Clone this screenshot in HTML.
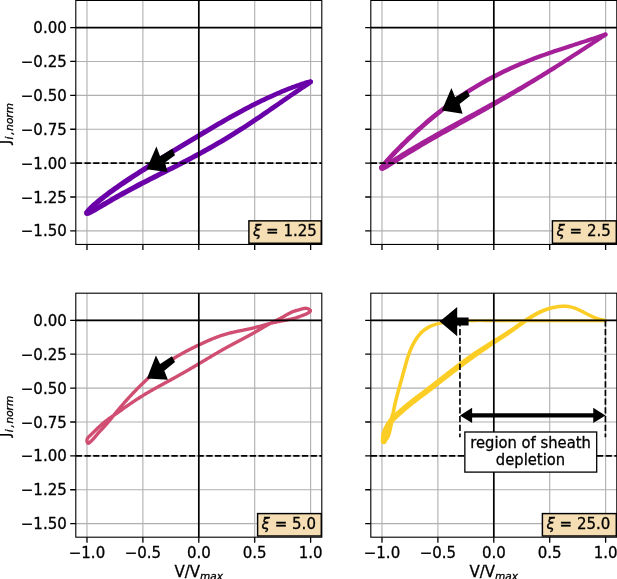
<!DOCTYPE html>
<html><head><meta charset="utf-8"><title>figure</title><style>html,body{margin:0;padding:0;background:#fff}svg{display:block}text{stroke:#000;stroke-width:.3px}</style></head><body>
<svg width="617" height="579" viewBox="0 0 617 579" font-family="DejaVu Sans, Liberation Sans, sans-serif" font-size="15.0" fill="#000">
<rect width="617" height="579" fill="#fff"/>
<g>
<path d="M86.98 0.45V244.45M142.89 0.45V244.45M198.80 0.45V244.45M254.71 0.45V244.45M310.62 0.45V244.45M75.80 27.56H321.80M75.80 61.45H321.80M75.80 95.34H321.80M75.80 129.23H321.80M75.80 163.12H321.80M75.80 197.01H321.80M75.80 230.89H321.80" stroke="#b0b0b0" stroke-width="1.11" fill="none"/>
<clipPath id="c0"><rect x="75.8" y="0.45" width="246.0" height="244.0"/></clipPath>
<g fill="#6a00a8" clip-path="url(#c0)"><path d="M312.63 80.79 L311.95 79.94 L310.82 79.46 L310.19 79.42 L309.70 79.46 L309.23 79.54 L308.73 79.64 L308.18 79.77 L307.57 79.93 L306.88 80.12 L306.14 80.34 L305.32 80.58 L304.42 80.86 L303.46 81.16 L302.43 81.49 L301.32 81.85 L300.14 82.25 L298.89 82.67 L297.58 83.13 L296.19 83.61 L294.74 84.13 L293.21 84.68 L291.63 85.27 L289.97 85.89 L288.26 86.55 L286.48 87.24 L284.64 87.97 L282.74 88.73 L280.78 89.54 L278.76 90.38 L276.69 91.26 L274.56 92.18 L272.38 93.14 L270.15 94.14 L267.86 95.18 L265.53 96.26 L263.15 97.38 L260.73 98.54 L258.27 99.74 L255.76 100.97 L253.21 102.25 L250.63 103.56 L248.00 104.91 L245.35 106.29 L242.66 107.71 L239.94 109.17 L237.19 110.65 L234.42 112.16 L231.62 113.71 L228.79 115.28 L225.95 116.88 L223.08 118.50 L220.20 120.14 L217.31 121.81 L214.40 123.49 L211.48 125.19 L208.55 126.91 L205.61 128.63 L202.67 130.37 L199.72 132.12 L196.78 133.88 L193.83 135.65 L190.89 137.42 L187.96 139.19 L185.03 140.96 L182.10 142.73 L179.19 144.50 L176.30 146.27 L173.41 148.03 L170.55 149.79 L167.70 151.53 L164.87 153.27 L162.07 155.01 L159.29 156.73 L156.53 158.44 L153.81 160.13 L151.11 161.82 L148.44 163.49 L145.81 165.15 L143.22 166.79 L140.66 168.42 L138.14 170.03 L135.66 171.63 L133.22 173.21 L130.82 174.77 L128.48 176.31 L126.17 177.84 L123.92 179.35 L121.72 180.83 L119.57 182.30 L117.47 183.74 L115.43 185.17 L113.44 186.57 L111.51 187.94 L109.64 189.29 L107.83 190.62 L106.08 191.92 L104.39 193.19 L102.77 194.43 L101.21 195.63 L99.72 196.81 L98.29 197.96 L96.93 199.06 L95.64 200.14 L94.42 201.17 L93.27 202.17 L92.19 203.12 L91.18 204.04 L90.24 204.91 L89.37 205.73 L88.58 206.51 L87.86 207.25 L87.20 207.94 L86.62 208.59 L86.10 209.20 L85.65 209.78 L85.25 210.33 L84.91 210.89 L84.61 211.51 L84.38 212.32 L84.34 212.96 L89.64 212.96 L89.60 213.20 L89.53 213.48 L89.54 213.47 L89.66 213.27 L89.88 212.96 L90.20 212.56 L90.60 212.08 L91.10 211.53 L91.67 210.92 L92.32 210.25 L93.06 209.53 L93.87 208.75 L94.75 207.93 L95.71 207.06 L96.75 206.14 L97.85 205.18 L99.03 204.17 L100.28 203.13 L101.61 202.05 L103.00 200.93 L104.45 199.77 L105.98 198.59 L107.57 197.37 L109.22 196.11 L110.94 194.83 L112.72 193.52 L114.56 192.19 L116.47 190.83 L118.43 189.44 L120.44 188.03 L122.52 186.59 L124.64 185.14 L126.82 183.66 L129.06 182.16 L131.34 180.64 L133.67 179.10 L136.04 177.54 L138.46 175.97 L140.93 174.37 L143.43 172.76 L145.98 171.13 L148.56 169.49 L151.18 167.83 L153.83 166.16 L156.52 164.47 L159.23 162.77 L161.98 161.06 L164.75 159.34 L167.55 157.60 L170.36 155.86 L173.20 154.11 L176.06 152.35 L178.94 150.58 L181.83 148.81 L184.73 147.04 L187.64 145.26 L190.56 143.49 L193.49 141.71 L196.42 139.94 L199.35 138.17 L202.28 136.41 L205.22 134.65 L208.14 132.91 L211.06 131.17 L213.98 129.45 L216.88 127.75 L219.77 126.06 L222.65 124.39 L225.51 122.74 L228.35 121.12 L231.17 119.52 L233.97 117.94 L236.75 116.40 L239.50 114.88 L242.22 113.40 L244.92 111.95 L247.58 110.53 L250.21 109.15 L252.80 107.80 L255.36 106.49 L257.88 105.22 L260.35 103.98 L262.79 102.79 L265.18 101.63 L267.53 100.51 L269.83 99.44 L272.08 98.40 L274.28 97.40 L276.43 96.45 L278.53 95.53 L280.57 94.65 L282.56 93.81 L284.49 93.01 L286.36 92.25 L288.17 91.52 L289.92 90.83 L291.61 90.18 L293.24 89.56 L294.80 88.98 L296.29 88.43 L297.72 87.91 L299.08 87.42 L300.38 86.97 L301.60 86.55 L302.75 86.16 L303.83 85.80 L304.84 85.47 L305.78 85.17 L306.64 84.91 L307.42 84.67 L308.12 84.46 L308.74 84.29 L309.28 84.15 L309.73 84.04 L310.07 83.96 L310.30 83.93 L310.35 83.92 L310.10 83.90 L309.21 83.50 L308.61 82.81Z" fill-rule="nonzero"/><circle cx="310.62" cy="81.80" r="2.25"/><circle cx="86.99" cy="212.96" r="2.65"/></g>
<g fill="#6a00a8" clip-path="url(#c0)"><path d="M84.67 214.23 L85.23 215.01 L86.54 215.74 L87.54 215.85 L88.28 215.76 L88.91 215.60 L89.54 215.39 L90.19 215.13 L90.88 214.82 L91.63 214.46 L92.43 214.05 L93.30 213.58 L94.24 213.07 L95.25 212.51 L96.32 211.90 L97.46 211.24 L98.67 210.54 L99.94 209.79 L101.28 209.00 L102.69 208.16 L104.17 207.29 L105.70 206.38 L107.31 205.44 L108.97 204.46 L110.70 203.45 L112.49 202.41 L114.34 201.35 L116.25 200.25 L118.21 199.13 L120.23 197.99 L122.31 196.83 L124.44 195.65 L126.62 194.45 L128.85 193.23 L131.13 191.99 L133.46 190.74 L135.84 189.47 L138.26 188.20 L140.72 186.90 L143.23 185.60 L145.77 184.28 L148.36 182.95 L150.98 181.61 L153.63 180.25 L156.32 178.89 L159.04 177.51 L161.78 176.12 L164.56 174.71 L167.36 173.29 L170.18 171.86 L173.02 170.41 L175.89 168.95 L178.77 167.48 L181.67 165.98 L184.58 164.48 L187.50 162.95 L190.43 161.41 L193.37 159.85 L196.31 158.28 L199.26 156.69 L202.20 155.08 L205.15 153.46 L208.09 151.82 L211.03 150.16 L213.96 148.49 L216.88 146.80 L219.78 145.11 L222.68 143.39 L225.56 141.67 L228.42 139.94 L231.26 138.20 L234.08 136.46 L236.88 134.71 L239.65 132.96 L242.39 131.21 L245.10 129.46 L247.78 127.71 L250.43 125.97 L253.04 124.24 L255.62 122.52 L258.15 120.82 L260.65 119.13 L263.10 117.46 L265.51 115.81 L267.88 114.18 L270.19 112.58 L272.46 111.01 L274.68 109.48 L276.84 107.97 L278.95 106.50 L281.01 105.07 L283.01 103.68 L284.95 102.33 L286.83 101.02 L288.65 99.76 L290.42 98.54 L292.11 97.37 L293.75 96.25 L295.32 95.17 L296.82 94.15 L298.26 93.17 L299.63 92.25 L300.93 91.38 L302.16 90.55 L303.32 89.78 L304.41 89.05 L305.43 88.38 L306.37 87.75 L307.25 87.17 L308.05 86.64 L308.79 86.15 L309.45 85.70 L310.04 85.29 L310.57 84.92 L311.03 84.58 L311.44 84.27 L311.80 83.96 L312.16 83.61 L312.56 83.08 L312.79 82.54 L308.44 81.05 L308.60 80.74 L308.77 80.50 L308.74 80.53 L308.56 80.67 L308.28 80.89 L307.89 81.17 L307.42 81.50 L306.86 81.88 L306.22 82.31 L305.50 82.79 L304.70 83.32 L303.83 83.90 L302.88 84.52 L301.85 85.20 L300.76 85.92 L299.59 86.70 L298.35 87.52 L297.04 88.40 L295.66 89.32 L294.21 90.30 L292.70 91.32 L291.12 92.40 L289.47 93.52 L287.76 94.69 L285.99 95.90 L284.16 97.16 L282.27 98.47 L280.33 99.81 L278.32 101.20 L276.26 102.63 L274.15 104.09 L271.98 105.58 L269.76 107.11 L267.50 108.67 L265.18 110.26 L262.82 111.87 L260.42 113.51 L257.97 115.16 L255.48 116.84 L252.95 118.53 L250.38 120.23 L247.78 121.94 L245.14 123.66 L242.47 125.39 L239.77 127.12 L237.05 128.85 L234.29 130.58 L231.51 132.31 L228.70 134.04 L225.88 135.75 L223.03 137.46 L220.17 139.16 L217.29 140.85 L214.40 142.53 L211.50 144.19 L208.59 145.84 L205.66 147.48 L202.74 149.10 L199.81 150.70 L196.87 152.29 L193.94 153.87 L191.01 155.42 L188.09 156.96 L185.17 158.49 L182.26 160.00 L179.35 161.50 L176.46 162.97 L173.59 164.44 L170.73 165.89 L167.88 167.33 L165.06 168.75 L162.26 170.16 L159.48 171.56 L156.73 172.95 L154.01 174.32 L151.31 175.68 L148.65 177.04 L146.02 178.38 L143.42 179.71 L140.86 181.02 L138.34 182.33 L135.86 183.62 L133.42 184.90 L131.03 186.17 L128.68 187.42 L126.38 188.66 L124.13 189.89 L121.93 191.09 L119.78 192.28 L117.68 193.44 L115.64 194.59 L113.66 195.71 L111.74 196.81 L109.87 197.88 L108.07 198.92 L106.33 199.93 L104.65 200.91 L103.04 201.86 L101.50 202.76 L100.02 203.63 L98.61 204.46 L97.28 205.24 L96.01 205.98 L94.82 206.67 L93.70 207.32 L92.65 207.91 L91.69 208.44 L90.80 208.93 L90.00 209.35 L89.28 209.72 L88.64 210.02 L88.11 210.26 L87.68 210.43 L87.38 210.53 L87.25 210.57 L87.37 210.56 L87.90 210.62 L88.90 211.19 L89.32 211.69Z" fill-rule="nonzero"/><circle cx="86.99" cy="212.96" r="2.65"/><circle cx="310.62" cy="81.80" r="2.30"/></g>
<path d="M75.80 27.56H321.80M198.80 0.45V244.45" stroke="#000" stroke-width="1.67" fill="none"/>
<path d="M75.80 163.12H321.80" stroke="#000" stroke-width="1.67" stroke-dasharray="6.2 2.5" fill="none"/>
<path d="M86.98 244.45v5.6M142.89 244.45v5.6M198.80 244.45v5.6M254.71 244.45v5.6M310.62 244.45v5.6M75.80 27.56h-5.6M75.80 61.45h-5.6M75.80 95.34h-5.6M75.80 129.23h-5.6M75.80 163.12h-5.6M75.80 197.01h-5.6M75.80 230.89h-5.6" stroke="#000" stroke-width="1.3" fill="none"/>
<rect x="75.8" y="0.45" width="246.0" height="244.0" fill="none" stroke="#000" stroke-width="1.11"/>
<text transform="translate(66.75 33.16) scale(1.0 1)" text-anchor="end">0.00</text>
<text transform="translate(66.75 67.05) scale(1.0 1)" text-anchor="end">−0.25</text>
<text transform="translate(66.75 100.94) scale(1.0 1)" text-anchor="end">−0.50</text>
<text transform="translate(66.75 134.83) scale(1.0 1)" text-anchor="end">−0.75</text>
<text transform="translate(66.75 168.72) scale(1.0 1)" text-anchor="end">−1.00</text>
<text transform="translate(66.75 202.61) scale(1.0 1)" text-anchor="end">−1.25</text>
<text transform="translate(66.75 236.49) scale(1.0 1)" text-anchor="end">−1.50</text>
<text transform="translate(9.70 144.15) rotate(-90) scale(1.0 1)" text-anchor="start">J<tspan font-style="italic" font-size="10.5" dy="3.5" dx="0.3">i</tspan><tspan font-style="italic" font-size="10.5" dx="1.8">,</tspan><tspan font-style="italic" font-size="10.5" dx="0.6">norm</tspan></text>
</g>
<g>
<path d="M381.98 0.45V244.45M437.89 0.45V244.45M493.80 0.45V244.45M549.71 0.45V244.45M605.62 0.45V244.45M370.80 27.56H616.80M370.80 61.45H616.80M370.80 95.34H616.80M370.80 129.23H616.80M370.80 163.12H616.80M370.80 197.01H616.80M370.80 230.89H616.80" stroke="#b0b0b0" stroke-width="1.11" fill="none"/>
<clipPath id="c1"><rect x="370.8" y="0.45" width="246.0" height="244.0"/></clipPath>
<g fill="#a41f98" clip-path="url(#c1)"><path d="M607.09 33.17 L606.19 32.55 L605.31 32.45 L604.87 32.52 L604.49 32.61 L604.08 32.73 L603.62 32.87 L603.10 33.05 L602.51 33.25 L601.85 33.48 L601.12 33.73 L600.32 34.01 L599.44 34.32 L598.50 34.65 L597.48 35.01 L596.39 35.39 L595.22 35.79 L593.99 36.21 L592.69 36.66 L591.32 37.12 L589.88 37.60 L588.37 38.10 L586.80 38.62 L585.17 39.16 L583.46 39.71 L581.70 40.28 L579.88 40.87 L577.99 41.48 L576.04 42.10 L574.04 42.74 L571.98 43.40 L569.87 44.08 L567.70 44.77 L565.48 45.49 L563.20 46.22 L560.88 46.97 L558.52 47.75 L556.10 48.55 L553.64 49.37 L551.14 50.21 L548.60 51.08 L546.01 51.97 L543.40 52.89 L540.74 53.83 L538.05 54.81 L535.33 55.81 L532.58 56.85 L529.80 57.91 L527.00 59.01 L524.17 60.14 L521.31 61.31 L518.44 62.50 L515.55 63.74 L512.65 65.01 L509.72 66.32 L506.79 67.66 L503.85 69.04 L500.90 70.46 L497.94 71.91 L494.98 73.41 L492.02 74.94 L489.06 76.51 L486.10 78.12 L483.14 79.76 L480.20 81.44 L477.26 83.15 L474.33 84.90 L471.41 86.67 L468.51 88.48 L465.63 90.32 L462.76 92.19 L459.92 94.09 L457.10 96.01 L454.30 97.95 L451.53 99.91 L448.79 101.89 L446.08 103.89 L443.40 105.90 L440.75 107.92 L438.15 109.95 L435.57 111.98 L433.04 114.02 L430.56 116.06 L428.11 118.09 L425.71 120.12 L423.35 122.14 L421.05 124.14 L418.79 126.13 L416.58 128.11 L414.43 130.06 L412.33 131.98 L410.29 133.88 L408.30 135.75 L406.37 137.58 L404.51 139.38 L402.70 141.14 L400.95 142.85 L399.27 144.52 L397.65 146.14 L396.10 147.71 L394.62 149.23 L393.20 150.70 L391.85 152.11 L390.57 153.46 L389.36 154.75 L388.22 155.98 L387.15 157.14 L386.15 158.25 L385.22 159.28 L384.37 160.25 L383.59 161.16 L382.88 161.99 L382.25 162.77 L381.68 163.48 L381.18 164.13 L380.75 164.72 L380.38 165.28 L380.07 165.81 L379.80 166.38 L379.58 167.12 L379.54 167.73 L384.44 167.73 L384.40 167.98 L384.34 168.22 L384.38 168.14 L384.53 167.89 L384.77 167.52 L385.11 167.05 L385.54 166.49 L386.05 165.84 L386.64 165.12 L387.31 164.33 L388.06 163.46 L388.88 162.52 L389.78 161.50 L390.75 160.42 L391.80 159.28 L392.92 158.07 L394.11 156.79 L395.37 155.46 L396.70 154.06 L398.10 152.61 L399.56 151.10 L401.09 149.55 L402.69 147.94 L404.35 146.28 L406.07 144.58 L407.86 142.83 L409.70 141.05 L411.60 139.23 L413.57 137.38 L415.58 135.49 L417.65 133.58 L419.78 131.65 L421.96 129.69 L424.18 127.72 L426.46 125.73 L428.78 123.72 L431.15 121.71 L433.56 119.69 L436.02 117.67 L438.51 115.65 L441.05 113.64 L443.62 111.62 L446.23 109.62 L448.87 107.63 L451.54 105.65 L454.24 103.68 L456.97 101.74 L459.72 99.82 L462.50 97.91 L465.30 96.03 L468.12 94.18 L470.96 92.36 L473.82 90.57 L476.69 88.80 L479.58 87.07 L482.47 85.37 L485.37 83.71 L488.28 82.08 L491.20 80.48 L494.11 78.92 L497.03 77.40 L499.94 75.91 L502.86 74.46 L505.76 73.05 L508.66 71.67 L511.55 70.33 L514.43 69.02 L517.30 67.75 L520.15 66.52 L522.98 65.32 L525.80 64.15 L528.59 63.02 L531.36 61.92 L534.11 60.85 L536.83 59.81 L539.52 58.80 L542.19 57.82 L544.82 56.87 L547.41 55.95 L549.97 55.05 L552.49 54.17 L554.98 53.32 L557.42 52.49 L559.82 51.69 L562.18 50.90 L564.49 50.14 L566.75 49.40 L568.96 48.67 L571.12 47.97 L573.23 47.28 L575.29 46.61 L577.29 45.96 L579.23 45.33 L581.12 44.71 L582.95 44.11 L584.71 43.53 L586.42 42.96 L588.06 42.41 L589.64 41.89 L591.15 41.37 L592.59 40.88 L593.97 40.41 L595.28 39.96 L596.52 39.52 L597.69 39.12 L598.78 38.73 L599.81 38.36 L600.76 38.03 L601.63 37.71 L602.43 37.43 L603.15 37.17 L603.80 36.94 L604.36 36.75 L604.84 36.59 L605.22 36.46 L605.51 36.38 L605.67 36.34 L605.62 36.34 L604.97 36.26 L604.15 35.73Z" fill-rule="nonzero"/><circle cx="605.62" cy="34.45" r="1.95"/><circle cx="381.99" cy="167.73" r="2.45"/></g>
<g fill="#a41f98" clip-path="url(#c1)"><path d="M379.55 169.40 L380.40 170.28 L382.04 170.84 L383.04 170.76 L383.73 170.57 L384.32 170.34 L384.92 170.06 L385.54 169.74 L386.21 169.36 L386.94 168.94 L387.73 168.47 L388.59 167.94 L389.52 167.37 L390.51 166.74 L391.58 166.06 L392.71 165.34 L393.91 164.58 L395.18 163.76 L396.52 162.91 L397.92 162.02 L399.39 161.08 L400.93 160.11 L402.53 159.10 L404.19 158.06 L405.92 156.98 L407.70 155.87 L409.55 154.74 L411.46 153.57 L413.42 152.38 L415.44 151.16 L417.52 149.91 L419.65 148.64 L421.83 147.35 L424.06 146.04 L426.35 144.71 L428.68 143.35 L431.05 141.98 L433.47 140.59 L435.94 139.19 L438.44 137.77 L440.99 136.33 L443.57 134.87 L446.19 133.40 L448.84 131.92 L451.53 130.43 L454.25 128.92 L456.99 127.39 L459.76 125.86 L462.56 124.31 L465.37 122.73 L468.20 121.15 L471.06 119.55 L473.92 117.94 L476.81 116.33 L479.71 114.70 L482.62 113.06 L485.53 111.42 L488.46 109.76 L491.39 108.10 L494.32 106.43 L497.25 104.75 L500.18 103.06 L503.11 101.37 L506.03 99.68 L508.95 97.98 L511.85 96.28 L514.75 94.57 L517.63 92.87 L520.49 91.16 L523.34 89.46 L526.17 87.76 L528.97 86.06 L531.76 84.37 L534.52 82.69 L537.26 81.02 L539.96 79.35 L542.63 77.70 L545.28 76.06 L547.88 74.43 L550.45 72.81 L552.98 71.22 L555.47 69.64 L557.92 68.08 L560.32 66.54 L562.68 65.03 L565.00 63.54 L567.26 62.08 L569.47 60.65 L571.64 59.24 L573.75 57.87 L575.80 56.53 L577.80 55.23 L579.74 53.96 L581.62 52.73 L583.44 51.53 L585.20 50.38 L586.90 49.27 L588.54 48.19 L590.11 47.17 L591.61 46.18 L593.05 45.24 L594.42 44.34 L595.72 43.49 L596.95 42.69 L598.12 41.93 L599.21 41.22 L600.23 40.56 L601.17 39.94 L602.05 39.37 L602.85 38.84 L603.58 38.36 L604.24 37.93 L604.82 37.54 L605.33 37.19 L605.78 36.87 L606.16 36.60 L606.49 36.34 L606.79 36.08 L607.14 35.70 L607.39 35.27 L603.85 33.63 L604.02 33.37 L604.13 33.23 L604.05 33.30 L603.84 33.46 L603.53 33.68 L603.13 33.96 L602.64 34.28 L602.07 34.66 L601.43 35.08 L600.70 35.55 L599.90 36.06 L599.03 36.62 L598.08 37.23 L597.05 37.89 L595.96 38.59 L594.79 39.34 L593.55 40.14 L592.24 40.98 L590.86 41.87 L589.42 42.80 L587.90 43.77 L586.32 44.79 L584.68 45.85 L582.97 46.95 L581.21 48.09 L579.38 49.27 L577.48 50.48 L575.54 51.74 L573.53 53.03 L571.47 54.35 L569.35 55.70 L567.18 57.09 L564.96 58.50 L562.69 59.94 L560.38 61.41 L558.01 62.90 L555.60 64.42 L553.15 65.95 L550.65 67.51 L548.12 69.08 L545.55 70.67 L542.94 72.27 L540.29 73.89 L537.61 75.52 L534.91 77.15 L532.17 78.80 L529.40 80.45 L526.61 82.11 L523.80 83.77 L520.96 85.43 L518.10 87.09 L515.22 88.76 L512.33 90.42 L509.42 92.08 L506.51 93.74 L503.58 95.40 L500.64 97.05 L497.70 98.69 L494.76 100.34 L491.81 101.97 L488.87 103.60 L485.92 105.22 L482.98 106.84 L480.05 108.44 L477.12 110.04 L474.21 111.63 L471.31 113.20 L468.42 114.77 L465.55 116.33 L462.69 117.88 L459.86 119.41 L457.05 120.95 L454.28 122.48 L451.52 123.99 L448.79 125.49 L446.10 126.98 L443.43 128.46 L440.80 129.93 L438.21 131.38 L435.65 132.81 L433.13 134.23 L430.65 135.63 L428.21 137.02 L425.82 138.39 L423.47 139.74 L421.17 141.08 L418.92 142.39 L416.72 143.68 L414.57 144.95 L412.47 146.20 L410.43 147.42 L408.45 148.62 L406.52 149.79 L404.66 150.93 L402.85 152.04 L401.11 153.12 L399.43 154.16 L397.82 155.17 L396.27 156.15 L394.79 157.08 L393.38 157.97 L392.04 158.83 L390.76 159.63 L389.56 160.39 L388.44 161.11 L387.39 161.77 L386.41 162.38 L385.51 162.93 L384.70 163.43 L383.96 163.86 L383.31 164.24 L382.76 164.54 L382.31 164.77 L381.97 164.93 L381.80 165.00 L381.87 164.98 L382.40 164.95 L383.74 165.41 L384.43 166.07Z" fill-rule="nonzero"/><circle cx="381.99" cy="167.73" r="2.95"/><circle cx="605.62" cy="34.45" r="1.95"/></g>
<path d="M370.80 27.56H616.80M493.80 0.45V244.45" stroke="#000" stroke-width="1.67" fill="none"/>
<path d="M370.80 163.12H616.80" stroke="#000" stroke-width="1.67" stroke-dasharray="6.2 2.5" fill="none"/>
<path d="M381.98 244.45v5.6M437.89 244.45v5.6M493.80 244.45v5.6M549.71 244.45v5.6M605.62 244.45v5.6M370.80 27.56h-5.6M370.80 61.45h-5.6M370.80 95.34h-5.6M370.80 129.23h-5.6M370.80 163.12h-5.6M370.80 197.01h-5.6M370.80 230.89h-5.6" stroke="#000" stroke-width="1.3" fill="none"/>
<rect x="370.8" y="0.45" width="246.0" height="244.0" fill="none" stroke="#000" stroke-width="1.11"/>
</g>
<g>
<path d="M86.98 293.20V537.20M142.89 293.20V537.20M198.80 293.20V537.20M254.71 293.20V537.20M310.62 293.20V537.20M75.80 320.31H321.80M75.80 354.20H321.80M75.80 388.09H321.80M75.80 421.98H321.80M75.80 455.87H321.80M75.80 489.76H321.80M75.80 523.64H321.80" stroke="#b0b0b0" stroke-width="1.11" fill="none"/>
<clipPath id="c2"><rect x="75.8" y="293.2" width="246.0" height="244.0"/></clipPath>
<g fill="#d04e72" clip-path="url(#c2)"><path d="M308.66 310.31 L308.63 310.58 L308.39 310.81 L307.76 311.25 L306.92 311.72 L306.05 312.16 L305.22 312.55 L304.43 312.89 L303.67 313.20 L302.91 313.50 L302.15 313.78 L301.36 314.08 L300.56 314.38 L299.74 314.68 L298.92 314.99 L298.09 315.29 L297.25 315.58 L296.41 315.87 L295.57 316.14 L294.74 316.40 L293.90 316.64 L293.06 316.87 L292.22 317.09 L291.37 317.30 L290.52 317.50 L289.67 317.68 L288.82 317.86 L287.96 318.04 L287.10 318.21 L286.24 318.37 L285.38 318.53 L284.51 318.69 L283.64 318.85 L282.77 319.01 L281.90 319.17 L281.02 319.34 L280.14 319.50 L279.27 319.67 L278.39 319.84 L277.51 320.01 L276.63 320.19 L275.75 320.37 L274.88 320.56 L274.00 320.75 L273.12 320.95 L272.24 321.15 L271.37 321.35 L270.49 321.57 L269.62 321.78 L268.75 322.01 L267.88 322.24 L267.01 322.47 L266.15 322.70 L265.29 322.94 L264.43 323.18 L263.57 323.43 L262.71 323.67 L261.86 323.91 L261.00 324.16 L260.15 324.40 L259.30 324.64 L258.45 324.88 L257.60 325.11 L256.75 325.34 L255.90 325.57 L255.05 325.79 L254.20 326.01 L253.34 326.22 L252.49 326.42 L251.63 326.63 L250.78 326.82 L249.92 327.02 L249.05 327.20 L248.19 327.39 L247.33 327.57 L246.46 327.76 L245.59 327.93 L244.72 328.11 L243.85 328.29 L242.98 328.46 L242.11 328.64 L241.24 328.82 L240.36 328.99 L239.49 329.17 L238.62 329.35 L237.74 329.53 L236.87 329.71 L235.99 329.89 L235.12 330.08 L234.24 330.27 L233.37 330.46 L232.49 330.66 L231.62 330.87 L230.75 331.07 L229.88 331.29 L229.00 331.51 L228.13 331.73 L227.27 331.96 L226.40 332.20 L225.53 332.45 L224.67 332.70 L223.81 332.96 L222.95 333.23 L222.09 333.50 L221.24 333.78 L220.38 334.07 L219.53 334.36 L218.68 334.66 L217.84 334.96 L216.99 335.27 L216.15 335.58 L215.31 335.90 L214.47 336.23 L213.64 336.55 L212.80 336.89 L211.97 337.22 L211.14 337.57 L210.31 337.91 L209.48 338.26 L208.66 338.61 L207.83 338.97 L207.01 339.33 L206.19 339.69 L205.37 340.06 L204.55 340.43 L203.73 340.80 L202.92 341.17 L202.10 341.55 L201.29 341.93 L200.48 342.31 L199.66 342.69 L198.85 343.07 L198.05 343.46 L197.24 343.84 L196.43 344.23 L195.62 344.62 L194.82 345.01 L194.01 345.41 L193.21 345.80 L192.40 346.20 L191.60 346.59 L190.80 347.00 L190.00 347.40 L189.20 347.80 L188.40 348.21 L187.61 348.62 L186.81 349.03 L186.02 349.45 L185.22 349.87 L184.43 350.29 L183.64 350.71 L182.86 351.14 L182.07 351.57 L181.29 352.01 L180.51 352.44 L179.72 352.88 L178.95 353.33 L178.17 353.77 L177.40 354.23 L176.62 354.68 L175.85 355.14 L175.09 355.60 L174.32 356.07 L173.56 356.54 L172.80 357.02 L172.04 357.50 L171.29 357.98 L170.53 358.47 L169.79 358.96 L169.04 359.46 L168.30 359.96 L167.55 360.47 L166.82 360.98 L166.08 361.50 L165.35 362.02 L164.62 362.54 L163.90 363.07 L163.17 363.60 L162.45 364.13 L161.74 364.67 L161.02 365.22 L160.31 365.76 L159.60 366.31 L158.89 366.87 L158.19 367.42 L157.49 367.98 L156.79 368.55 L156.10 369.12 L155.40 369.69 L154.71 370.26 L154.02 370.84 L153.34 371.42 L152.65 372.00 L151.97 372.59 L151.29 373.18 L150.62 373.77 L149.94 374.36 L149.27 374.96 L148.60 375.56 L147.94 376.16 L147.27 376.76 L146.61 377.37 L145.95 377.98 L145.29 378.59 L144.63 379.20 L143.98 379.82 L143.33 380.44 L142.68 381.06 L142.03 381.68 L141.38 382.30 L140.74 382.93 L140.10 383.55 L139.46 384.18 L138.82 384.81 L138.18 385.45 L137.55 386.08 L136.91 386.72 L136.28 387.35 L135.65 387.99 L135.03 388.64 L134.40 389.28 L133.78 389.92 L133.16 390.57 L132.54 391.22 L131.92 391.87 L131.30 392.52 L130.69 393.17 L130.08 393.82 L129.47 394.48 L128.86 395.14 L128.25 395.79 L127.65 396.45 L127.04 397.12 L126.44 397.78 L125.84 398.44 L125.24 399.11 L124.65 399.77 L124.05 400.44 L123.46 401.11 L122.87 401.78 L122.28 402.46 L121.70 403.13 L121.11 403.80 L120.53 404.48 L119.95 405.16 L119.37 405.83 L118.79 406.51 L118.21 407.19 L117.64 407.88 L117.07 408.56 L116.50 409.24 L115.93 409.93 L115.36 410.61 L114.80 411.30 L114.23 411.99 L113.67 412.68 L113.11 413.37 L112.55 414.06 L112.00 414.75 L111.44 415.44 L110.89 416.13 L110.34 416.82 L109.79 417.51 L109.23 418.19 L108.68 418.88 L108.12 419.56 L107.56 420.24 L107.00 420.92 L106.43 421.59 L105.86 422.27 L105.28 422.93 L104.69 423.60 L104.10 424.26 L103.50 424.92 L102.89 425.58 L102.27 426.24 L101.66 426.90 L101.04 427.56 L100.42 428.21 L99.81 428.87 L99.20 429.52 L98.59 430.17 L98.00 430.82 L97.41 431.47 L96.84 432.12 L96.29 432.77 L95.75 433.41 L95.22 434.05 L94.70 434.68 L94.17 435.31 L93.64 435.94 L93.10 436.58 L92.55 437.22 L91.97 437.86 L91.36 438.52 L90.72 439.19 L90.03 439.87 L89.31 440.57 L88.60 441.22 L88.13 441.58 L88.50 441.61 L88.94 441.82 L88.80 441.47 L88.68 440.78 L88.70 440.14 L88.84 439.60 L89.09 439.08 L89.47 438.53 L89.97 437.97 L90.57 437.38 L91.24 436.77 L91.93 436.14 L92.61 435.50 L93.28 434.87 L93.93 434.24 L94.58 433.61 L95.21 432.98 L95.84 432.36 L96.46 431.74 L97.08 431.13 L97.70 430.52 L98.32 429.91 L98.94 429.31 L99.57 428.71 L100.20 428.11 L100.84 427.52 L101.49 426.93 L102.14 426.35 L102.80 425.77 L103.46 425.20 L104.13 424.63 L104.80 424.07 L105.48 423.51 L106.16 422.97 L106.85 422.43 L107.54 421.89 L108.24 421.37 L108.95 420.85 L109.66 420.33 L110.37 419.81 L111.09 419.30 L111.81 418.79 L112.53 418.29 L113.26 417.78 L113.99 417.27 L114.71 416.76 L115.44 416.25 L116.17 415.74 L116.90 415.23 L117.63 414.72 L118.36 414.21 L119.08 413.70 L119.81 413.18 L120.54 412.67 L121.27 412.16 L121.99 411.65 L122.72 411.14 L123.45 410.63 L124.17 410.11 L124.90 409.60 L125.63 409.09 L126.36 408.59 L127.08 408.08 L127.81 407.57 L128.54 407.06 L129.27 406.56 L130.00 406.06 L130.73 405.55 L131.46 405.05 L132.19 404.55 L132.93 404.05 L133.66 403.56 L134.39 403.06 L135.13 402.57 L135.86 402.08 L136.60 401.59 L137.34 401.10 L138.08 400.62 L138.82 400.14 L139.56 399.66 L140.30 399.18 L141.05 398.70 L141.79 398.23 L142.54 397.76 L143.29 397.30 L144.04 396.83 L144.79 396.37 L145.55 395.92 L146.30 395.46 L147.06 395.01 L147.82 394.56 L148.58 394.11 L149.34 393.66 L150.11 393.22 L150.87 392.78 L151.64 392.34 L152.41 391.90 L153.18 391.46 L153.95 391.03 L154.72 390.59 L155.49 390.16 L156.26 389.73 L157.04 389.30 L157.82 388.87 L158.59 388.44 L159.37 388.01 L160.15 387.59 L160.93 387.16 L161.71 386.73 L162.49 386.31 L163.27 385.88 L164.05 385.46 L164.83 385.04 L165.61 384.61 L166.39 384.19 L167.17 383.76 L167.95 383.34 L168.74 382.91 L169.52 382.48 L170.30 382.06 L171.08 381.63 L171.86 381.20 L172.64 380.77 L173.42 380.34 L174.20 379.91 L174.98 379.48 L175.76 379.05 L176.54 378.61 L177.32 378.18 L178.09 377.75 L178.87 377.31 L179.65 376.87 L180.42 376.44 L181.20 376.00 L181.97 375.56 L182.75 375.12 L183.52 374.68 L184.30 374.24 L185.07 373.80 L185.84 373.36 L186.61 372.91 L187.39 372.47 L188.16 372.03 L188.93 371.58 L189.70 371.14 L190.47 370.69 L191.24 370.24 L192.01 369.79 L192.78 369.35 L193.55 368.90 L194.31 368.45 L195.08 368.00 L195.85 367.54 L196.62 367.09 L197.38 366.64 L198.15 366.19 L198.92 365.73 L199.68 365.28 L200.45 364.82 L201.21 364.37 L201.97 363.91 L202.74 363.45 L203.50 363.00 L204.27 362.54 L205.03 362.08 L205.79 361.63 L206.55 361.17 L207.32 360.71 L208.08 360.26 L208.84 359.80 L209.60 359.34 L210.37 358.89 L211.13 358.43 L211.89 357.98 L212.65 357.52 L213.42 357.07 L214.18 356.62 L214.94 356.16 L215.71 355.71 L216.47 355.26 L217.23 354.81 L218.00 354.37 L218.77 353.92 L219.53 353.47 L220.30 353.03 L221.06 352.59 L221.83 352.14 L222.60 351.70 L223.37 351.27 L224.14 350.83 L224.91 350.40 L225.68 349.96 L226.45 349.53 L227.23 349.10 L228.00 348.68 L228.78 348.25 L229.55 347.83 L230.33 347.41 L231.11 346.99 L231.89 346.57 L232.67 346.15 L233.45 345.73 L234.24 345.32 L235.02 344.90 L235.81 344.49 L236.59 344.07 L237.38 343.66 L238.16 343.24 L238.95 342.83 L239.73 342.42 L240.52 342.00 L241.31 341.59 L242.10 341.18 L242.88 340.76 L243.67 340.34 L244.46 339.93 L245.24 339.51 L246.03 339.09 L246.82 338.67 L247.60 338.25 L248.39 337.83 L249.17 337.40 L249.96 336.97 L250.74 336.55 L251.52 336.12 L252.30 335.68 L253.09 335.25 L253.87 334.81 L254.64 334.37 L255.42 333.93 L256.20 333.48 L256.97 333.03 L257.74 332.58 L258.51 332.13 L259.28 331.68 L260.05 331.23 L260.82 330.78 L261.58 330.33 L262.35 329.88 L263.11 329.43 L263.88 328.98 L264.64 328.54 L265.41 328.10 L266.18 327.66 L266.94 327.22 L267.71 326.79 L268.48 326.36 L269.25 325.94 L270.02 325.52 L270.79 325.11 L271.57 324.70 L272.35 324.30 L273.13 323.90 L273.92 323.50 L274.71 323.11 L275.50 322.71 L276.30 322.32 L277.09 321.92 L277.89 321.53 L278.69 321.13 L279.49 320.72 L280.29 320.31 L281.09 319.90 L281.89 319.48 L282.69 319.05 L283.48 318.61 L284.27 318.16 L285.06 317.70 L285.83 317.25 L286.60 316.80 L287.37 316.35 L288.13 315.90 L288.89 315.47 L289.65 315.05 L290.41 314.64 L291.17 314.25 L291.93 313.89 L292.69 313.54 L293.46 313.21 L294.24 312.92 L295.03 312.64 L295.84 312.38 L296.66 312.14 L297.49 311.91 L298.34 311.68 L299.19 311.47 L300.06 311.25 L300.92 311.03 L301.80 310.80 L302.66 310.57 L303.50 310.34 L304.27 310.14 L304.98 310.02 L305.65 309.97 L306.31 310.02 L307.01 310.18 L307.74 310.49 L308.35 310.87 L308.62 311.12 L308.70 311.44 L311.87 310.21 L311.43 309.20 L310.44 308.19 L309.30 307.47 L308.08 306.96 L306.85 306.66 L305.67 306.57 L304.57 306.64 L303.56 306.82 L302.63 307.05 L301.77 307.29 L300.93 307.52 L300.08 307.73 L299.22 307.95 L298.36 308.17 L297.48 308.39 L296.61 308.63 L295.72 308.87 L294.84 309.13 L293.95 309.42 L293.07 309.72 L292.19 310.06 L291.33 310.42 L290.48 310.81 L289.65 311.21 L288.83 311.63 L288.02 312.07 L287.22 312.51 L286.43 312.96 L285.65 313.41 L284.88 313.87 L284.11 314.32 L283.35 314.77 L282.58 315.21 L281.82 315.64 L281.06 316.06 L280.29 316.48 L279.51 316.89 L278.73 317.29 L277.95 317.69 L277.16 318.09 L276.37 318.48 L275.58 318.88 L274.79 319.27 L273.99 319.67 L273.19 320.06 L272.39 320.46 L271.59 320.86 L270.80 321.27 L270.00 321.68 L269.20 322.10 L268.41 322.53 L267.62 322.95 L266.83 323.39 L266.05 323.82 L265.27 324.26 L264.49 324.70 L263.71 325.15 L262.94 325.60 L262.17 326.05 L261.40 326.50 L260.63 326.95 L259.86 327.40 L259.09 327.85 L258.33 328.30 L257.56 328.75 L256.80 329.20 L256.03 329.65 L255.27 330.09 L254.50 330.54 L253.73 330.98 L252.97 331.41 L252.20 331.85 L251.43 332.28 L250.65 332.71 L249.88 333.14 L249.10 333.57 L248.33 333.99 L247.55 334.41 L246.77 334.83 L245.99 335.25 L245.21 335.67 L244.43 336.09 L243.65 336.51 L242.86 336.92 L242.08 337.34 L241.30 337.75 L240.51 338.17 L239.72 338.58 L238.94 338.99 L238.15 339.41 L237.37 339.82 L236.58 340.24 L235.79 340.65 L235.00 341.06 L234.22 341.48 L233.43 341.90 L232.64 342.31 L231.86 342.73 L231.07 343.15 L230.28 343.57 L229.50 343.99 L228.71 344.42 L227.93 344.84 L227.15 345.27 L226.36 345.70 L225.58 346.13 L224.80 346.56 L224.02 347.00 L223.24 347.43 L222.47 347.87 L221.69 348.31 L220.91 348.75 L220.14 349.20 L219.37 349.64 L218.59 350.09 L217.82 350.53 L217.05 350.98 L216.28 351.43 L215.51 351.88 L214.75 352.33 L213.98 352.78 L213.21 353.24 L212.45 353.69 L211.68 354.15 L210.91 354.60 L210.15 355.06 L209.39 355.51 L208.62 355.97 L207.86 356.43 L207.09 356.88 L206.33 357.34 L205.57 357.80 L204.81 358.25 L204.04 358.71 L203.28 359.17 L202.52 359.62 L201.76 360.08 L200.99 360.54 L200.23 360.99 L199.47 361.45 L198.71 361.90 L197.94 362.36 L197.18 362.81 L196.42 363.26 L195.65 363.71 L194.89 364.16 L194.12 364.61 L193.36 365.06 L192.59 365.51 L191.83 365.96 L191.06 366.41 L190.30 366.86 L189.53 367.30 L188.76 367.75 L188.00 368.19 L187.23 368.64 L186.46 369.08 L185.69 369.52 L184.92 369.97 L184.15 370.41 L183.38 370.85 L182.61 371.29 L181.84 371.73 L181.07 372.17 L180.30 372.60 L179.53 373.04 L178.75 373.48 L177.98 373.91 L177.21 374.35 L176.43 374.78 L175.66 375.21 L174.88 375.64 L174.11 376.08 L173.33 376.51 L172.56 376.94 L171.78 377.37 L171.00 377.79 L170.22 378.22 L169.45 378.65 L168.67 379.07 L167.89 379.50 L167.11 379.92 L166.33 380.35 L165.55 380.77 L164.77 381.20 L163.99 381.62 L163.20 382.05 L162.42 382.47 L161.64 382.90 L160.86 383.32 L160.08 383.75 L159.30 384.18 L158.51 384.60 L157.73 385.03 L156.95 385.46 L156.17 385.89 L155.39 386.32 L154.61 386.76 L153.83 387.19 L153.05 387.63 L152.28 388.06 L151.50 388.50 L150.72 388.94 L149.95 389.39 L149.17 389.83 L148.40 390.28 L147.63 390.73 L146.86 391.18 L146.09 391.63 L145.32 392.09 L144.55 392.54 L143.79 393.01 L143.02 393.47 L142.26 393.94 L141.50 394.41 L140.74 394.88 L139.98 395.36 L139.22 395.83 L138.47 396.32 L137.72 396.80 L136.97 397.28 L136.22 397.77 L135.47 398.26 L134.73 398.75 L133.98 399.25 L133.24 399.74 L132.50 400.24 L131.76 400.74 L131.02 401.24 L130.28 401.74 L129.54 402.25 L128.81 402.75 L128.07 403.26 L127.34 403.76 L126.60 404.27 L125.87 404.78 L125.14 405.29 L124.41 405.80 L123.68 406.31 L122.95 406.82 L122.22 407.33 L121.49 407.84 L120.76 408.36 L120.04 408.87 L119.31 409.38 L118.58 409.89 L117.85 410.40 L117.13 410.92 L116.40 411.43 L115.67 411.94 L114.95 412.45 L114.22 412.96 L113.49 413.47 L112.77 413.97 L112.04 414.48 L111.31 414.99 L110.58 415.50 L109.85 416.01 L109.12 416.53 L108.39 417.05 L107.66 417.57 L106.93 418.11 L106.21 418.64 L105.48 419.19 L104.76 419.74 L104.05 420.30 L103.34 420.87 L102.64 421.45 L101.94 422.03 L101.25 422.62 L100.56 423.21 L99.88 423.81 L99.21 424.41 L98.54 425.02 L97.88 425.63 L97.23 426.24 L96.58 426.86 L95.95 427.48 L95.32 428.09 L94.69 428.71 L94.07 429.33 L93.45 429.95 L92.82 430.56 L92.20 431.18 L91.56 431.80 L90.93 432.41 L90.28 433.03 L89.62 433.64 L88.95 434.26 L88.24 434.91 L87.51 435.63 L86.80 436.43 L86.15 437.37 L85.64 438.45 L85.33 439.69 L85.29 441.04 L85.55 442.45 L86.20 443.84 L87.79 444.93 L89.60 444.64 L90.74 443.86 L91.63 443.05 L92.41 442.30 L93.14 441.57 L93.83 440.85 L94.48 440.15 L95.09 439.47 L95.68 438.80 L96.24 438.14 L96.78 437.49 L97.31 436.85 L97.84 436.22 L98.36 435.59 L98.88 434.97 L99.41 434.35 L99.96 433.73 L100.52 433.10 L101.10 432.47 L101.69 431.83 L102.29 431.19 L102.90 430.54 L103.51 429.89 L104.13 429.23 L104.76 428.56 L105.38 427.90 L106.00 427.22 L106.62 426.54 L107.23 425.86 L107.84 425.17 L108.44 424.48 L109.03 423.79 L109.61 423.10 L110.18 422.41 L110.75 421.71 L111.32 421.02 L111.88 420.33 L112.44 419.64 L112.99 418.94 L113.54 418.25 L114.09 417.56 L114.65 416.88 L115.20 416.19 L115.75 415.51 L116.31 414.82 L116.86 414.14 L117.42 413.46 L117.98 412.78 L118.55 412.10 L119.11 411.42 L119.67 410.74 L120.24 410.06 L120.81 409.39 L121.38 408.71 L121.95 408.04 L122.53 407.37 L123.10 406.70 L123.68 406.03 L124.26 405.36 L124.84 404.69 L125.43 404.03 L126.01 403.36 L126.60 402.70 L127.19 402.04 L127.78 401.38 L128.37 400.72 L128.96 400.06 L129.56 399.40 L130.15 398.75 L130.75 398.09 L131.35 397.44 L131.96 396.79 L132.56 396.14 L133.17 395.50 L133.78 394.85 L134.38 394.21 L135.00 393.56 L135.61 392.92 L136.22 392.28 L136.84 391.65 L137.46 391.01 L138.08 390.37 L138.70 389.74 L139.33 389.11 L139.95 388.48 L140.58 387.85 L141.21 387.23 L141.84 386.61 L142.48 385.98 L143.11 385.36 L143.75 384.74 L144.39 384.13 L145.03 383.51 L145.67 382.90 L146.31 382.29 L146.96 381.68 L147.61 381.08 L148.26 380.47 L148.91 379.87 L149.56 379.28 L150.22 378.68 L150.88 378.09 L151.54 377.50 L152.20 376.91 L152.86 376.32 L153.53 375.74 L154.20 375.16 L154.87 374.58 L155.54 374.01 L156.21 373.44 L156.89 372.87 L157.57 372.31 L158.25 371.75 L158.93 371.19 L159.62 370.63 L160.31 370.08 L161.00 369.54 L161.69 368.99 L162.39 368.45 L163.09 367.92 L163.79 367.39 L164.49 366.86 L165.20 366.33 L165.90 365.81 L166.61 365.29 L167.33 364.78 L168.04 364.27 L168.76 363.77 L169.48 363.27 L170.21 362.77 L170.93 362.28 L171.66 361.80 L172.40 361.32 L173.13 360.84 L173.87 360.36 L174.61 359.89 L175.35 359.43 L176.10 358.97 L176.85 358.51 L177.60 358.06 L178.36 357.61 L179.12 357.16 L179.88 356.72 L180.64 356.28 L181.40 355.84 L182.17 355.41 L182.94 354.98 L183.71 354.55 L184.48 354.13 L185.26 353.71 L186.04 353.29 L186.82 352.87 L187.60 352.46 L188.38 352.05 L189.17 351.64 L189.95 351.24 L190.74 350.83 L191.53 350.43 L192.32 350.03 L193.12 349.64 L193.91 349.24 L194.71 348.85 L195.51 348.46 L196.30 348.07 L197.10 347.68 L197.90 347.30 L198.71 346.91 L199.51 346.53 L200.31 346.15 L201.12 345.77 L201.92 345.39 L202.72 345.01 L203.53 344.64 L204.34 344.26 L205.14 343.89 L205.95 343.53 L206.76 343.16 L207.57 342.80 L208.38 342.44 L209.19 342.09 L210.00 341.74 L210.81 341.39 L211.63 341.05 L212.44 340.71 L213.26 340.37 L214.07 340.04 L214.89 339.71 L215.71 339.39 L216.53 339.08 L217.35 338.76 L218.17 338.46 L219.00 338.16 L219.82 337.86 L220.65 337.57 L221.48 337.29 L222.30 337.01 L223.14 336.74 L223.97 336.47 L224.80 336.21 L225.64 335.96 L226.47 335.71 L227.31 335.48 L228.15 335.24 L229.00 335.02 L229.85 334.80 L230.69 334.59 L231.55 334.38 L232.40 334.17 L233.26 333.98 L234.11 333.78 L234.97 333.59 L235.83 333.40 L236.70 333.22 L237.56 333.04 L238.43 332.86 L239.30 332.68 L240.17 332.50 L241.04 332.32 L241.91 332.15 L242.78 331.97 L243.65 331.80 L244.53 331.62 L245.40 331.44 L246.28 331.27 L247.15 331.08 L248.03 330.90 L248.90 330.72 L249.78 330.53 L250.65 330.33 L251.53 330.14 L252.40 329.94 L253.28 329.73 L254.15 329.52 L255.02 329.30 L255.90 329.08 L256.76 328.86 L257.63 328.62 L258.50 328.39 L259.36 328.15 L260.22 327.91 L261.08 327.67 L261.93 327.43 L262.79 327.18 L263.64 326.94 L264.50 326.70 L265.35 326.46 L266.20 326.22 L267.05 325.98 L267.90 325.75 L268.75 325.52 L269.60 325.30 L270.45 325.08 L271.30 324.87 L272.16 324.66 L273.01 324.46 L273.87 324.26 L274.73 324.07 L275.59 323.88 L276.45 323.70 L277.32 323.52 L278.18 323.35 L279.05 323.18 L279.91 323.01 L280.78 322.84 L281.65 322.68 L282.52 322.52 L283.38 322.35 L284.25 322.20 L285.13 322.04 L286.00 321.88 L286.87 321.71 L287.75 321.55 L288.63 321.37 L289.51 321.19 L290.39 321.01 L291.27 320.81 L292.16 320.61 L293.05 320.39 L293.93 320.16 L294.82 319.92 L295.71 319.66 L296.60 319.38 L297.49 319.10 L298.36 318.80 L299.23 318.49 L300.09 318.18 L300.92 317.87 L301.75 317.56 L302.55 317.26 L303.34 316.97 L304.12 316.67 L304.93 316.36 L305.76 316.02 L306.63 315.64 L307.54 315.21 L308.53 314.72 L309.57 314.12 L310.60 313.39 L311.52 312.37 L311.90 311.33Z" fill-rule="nonzero"/><circle cx="310.28" cy="310.82" r="1.70"/><circle cx="310.28" cy="310.82" r="1.70"/></g>
<path d="M75.80 320.31H321.80M198.80 293.20V537.20" stroke="#000" stroke-width="1.67" fill="none"/>
<path d="M75.80 455.87H321.80" stroke="#000" stroke-width="1.67" stroke-dasharray="6.2 2.5" fill="none"/>
<path d="M86.98 537.20v5.6M142.89 537.20v5.6M198.80 537.20v5.6M254.71 537.20v5.6M310.62 537.20v5.6M75.80 320.31h-5.6M75.80 354.20h-5.6M75.80 388.09h-5.6M75.80 421.98h-5.6M75.80 455.87h-5.6M75.80 489.76h-5.6M75.80 523.64h-5.6" stroke="#000" stroke-width="1.3" fill="none"/>
<rect x="75.8" y="293.2" width="246.0" height="244.0" fill="none" stroke="#000" stroke-width="1.11"/>
<text transform="translate(66.75 325.91) scale(1.0 1)" text-anchor="end">0.00</text>
<text transform="translate(66.75 359.80) scale(1.0 1)" text-anchor="end">−0.25</text>
<text transform="translate(66.75 393.69) scale(1.0 1)" text-anchor="end">−0.50</text>
<text transform="translate(66.75 427.58) scale(1.0 1)" text-anchor="end">−0.75</text>
<text transform="translate(66.75 461.47) scale(1.0 1)" text-anchor="end">−1.00</text>
<text transform="translate(66.75 495.36) scale(1.0 1)" text-anchor="end">−1.25</text>
<text transform="translate(66.75 529.24) scale(1.0 1)" text-anchor="end">−1.50</text>
<text transform="translate(9.70 436.90) rotate(-90) scale(1.0 1)" text-anchor="start">J<tspan font-style="italic" font-size="10.5" dy="3.5" dx="0.3">i</tspan><tspan font-style="italic" font-size="10.5" dx="1.8">,</tspan><tspan font-style="italic" font-size="10.5" dx="0.6">norm</tspan></text>
<text transform="translate(86.98 558.30) scale(1.0 1)" text-anchor="middle">−1.0</text>
<text transform="translate(142.89 558.30) scale(1.0 1)" text-anchor="middle">−0.5</text>
<text transform="translate(198.80 558.30) scale(1.0 1)" text-anchor="middle">0.0</text>
<text transform="translate(254.71 558.30) scale(1.0 1)" text-anchor="middle">0.5</text>
<text transform="translate(310.62 558.30) scale(1.0 1)" text-anchor="middle">1.0</text>
<text transform="translate(174.50 576.60) scale(1.0 1)" text-anchor="start">V/V<tspan font-style="italic" font-size="10.5" dy="2.9">max</tspan></text>
</g>
<g>
<path d="M381.98 293.20V537.20M437.89 293.20V537.20M493.80 293.20V537.20M549.71 293.20V537.20M605.62 293.20V537.20M370.80 320.31H616.80M370.80 354.20H616.80M370.80 388.09H616.80M370.80 421.98H616.80M370.80 455.87H616.80M370.80 489.76H616.80M370.80 523.64H616.80" stroke="#b0b0b0" stroke-width="1.11" fill="none"/>
<clipPath id="c3"><rect x="370.8" y="293.2" width="246.0" height="244.0"/></clipPath>
<g fill="#fcce25" clip-path="url(#c3)"><path d="M605.62 319.55 L604.61 319.55 L603.59 319.55 L602.58 319.55 L601.57 319.55 L600.56 319.55 L599.54 319.55 L598.53 319.55 L597.52 319.55 L596.51 319.55 L595.50 319.55 L594.48 319.55 L593.47 319.55 L592.46 319.55 L591.45 319.55 L590.43 319.55 L589.42 319.55 L588.41 319.55 L587.40 319.55 L586.38 319.55 L585.37 319.55 L584.36 319.55 L583.35 319.55 L582.34 319.55 L581.32 319.55 L580.31 319.55 L579.30 319.55 L578.29 319.55 L577.27 319.55 L576.26 319.55 L575.25 319.55 L574.24 319.55 L573.22 319.55 L572.21 319.55 L571.20 319.55 L570.19 319.55 L569.17 319.55 L568.16 319.55 L567.15 319.55 L566.14 319.55 L565.12 319.55 L564.11 319.55 L563.10 319.55 L562.09 319.55 L561.07 319.55 L560.06 319.55 L559.05 319.55 L558.04 319.55 L557.02 319.55 L556.01 319.55 L555.00 319.55 L553.98 319.55 L552.97 319.55 L551.96 319.55 L550.95 319.55 L549.93 319.55 L548.92 319.55 L547.91 319.55 L546.90 319.56 L545.88 319.56 L544.87 319.56 L543.86 319.56 L542.84 319.56 L541.83 319.56 L540.82 319.56 L539.81 319.56 L538.79 319.56 L537.78 319.56 L536.77 319.57 L535.76 319.57 L534.74 319.57 L533.73 319.57 L532.72 319.57 L531.70 319.57 L530.69 319.57 L529.68 319.57 L528.67 319.57 L527.65 319.57 L526.64 319.57 L525.63 319.58 L524.62 319.58 L523.60 319.58 L522.59 319.58 L521.58 319.58 L520.57 319.58 L519.55 319.58 L518.54 319.58 L517.53 319.58 L516.52 319.58 L515.50 319.58 L514.49 319.58 L513.48 319.58 L512.47 319.58 L511.46 319.58 L510.44 319.58 L509.43 319.58 L508.42 319.58 L507.41 319.58 L506.39 319.58 L505.38 319.57 L504.37 319.57 L503.36 319.57 L502.35 319.57 L501.34 319.57 L500.32 319.57 L499.31 319.57 L498.30 319.56 L497.29 319.56 L496.28 319.56 L495.27 319.56 L494.25 319.55 L493.24 319.55 L492.23 319.55 L491.22 319.55 L490.21 319.54 L489.20 319.54 L488.19 319.54 L487.17 319.53 L486.16 319.53 L485.15 319.53 L484.14 319.53 L483.13 319.53 L482.12 319.52 L481.10 319.52 L480.09 319.52 L479.08 319.52 L478.07 319.52 L477.05 319.52 L476.04 319.53 L475.03 319.53 L474.01 319.53 L473.00 319.54 L471.99 319.54 L470.97 319.55 L469.96 319.56 L468.94 319.57 L467.93 319.57 L466.91 319.59 L465.90 319.60 L464.88 319.61 L463.87 319.63 L462.85 319.64 L461.84 319.66 L460.82 319.68 L459.80 319.70 L458.78 319.72 L457.76 319.75 L456.74 319.78 L455.72 319.82 L454.69 319.86 L453.67 319.92 L452.64 319.98 L451.62 320.06 L450.59 320.15 L449.56 320.26 L448.54 320.37 L447.51 320.49 L446.48 320.62 L445.46 320.78 L444.44 320.95 L443.43 321.14 L442.43 321.33 L441.43 321.52 L440.43 321.72 L439.44 321.91 L438.43 322.11 L437.43 322.32 L436.41 322.54 L435.40 322.78 L434.38 323.05 L433.36 323.35 L432.35 323.68 L431.35 324.04 L430.36 324.44 L429.38 324.86 L428.41 325.32 L427.45 325.81 L426.52 326.33 L425.60 326.89 L424.70 327.49 L423.83 328.11 L422.98 328.76 L422.15 329.44 L421.34 330.14 L420.55 330.87 L419.78 331.62 L419.04 332.39 L418.32 333.18 L417.63 333.98 L416.96 334.81 L416.31 335.65 L415.69 336.50 L415.09 337.37 L414.50 338.25 L413.94 339.14 L413.39 340.04 L412.87 340.95 L412.36 341.86 L411.86 342.78 L411.38 343.70 L410.91 344.63 L410.46 345.57 L410.02 346.51 L409.59 347.45 L409.17 348.40 L408.77 349.36 L408.38 350.32 L408.00 351.28 L407.63 352.25 L407.27 353.22 L406.93 354.19 L406.59 355.16 L406.27 356.14 L405.95 357.12 L405.64 358.10 L405.34 359.08 L405.05 360.06 L404.76 361.04 L404.48 362.03 L404.20 363.01 L403.92 363.99 L403.65 364.97 L403.38 365.95 L403.11 366.93 L402.84 367.91 L402.57 368.88 L402.30 369.86 L402.03 370.84 L401.76 371.82 L401.50 372.80 L401.23 373.77 L400.96 374.75 L400.69 375.73 L400.42 376.70 L400.15 377.68 L399.88 378.65 L399.61 379.63 L399.34 380.60 L399.07 381.58 L398.80 382.56 L398.52 383.53 L398.25 384.51 L397.98 385.49 L397.71 386.46 L397.44 387.44 L397.17 388.42 L396.90 389.40 L396.63 390.38 L396.36 391.36 L396.09 392.34 L395.83 393.32 L395.56 394.30 L395.30 395.29 L395.04 396.27 L394.79 397.26 L394.54 398.25 L394.29 399.24 L394.04 400.23 L393.80 401.22 L393.56 402.22 L393.33 403.21 L393.10 404.21 L392.88 405.21 L392.67 406.22 L392.46 407.22 L392.25 408.22 L392.05 409.22 L391.86 410.22 L391.66 411.22 L391.46 412.21 L391.27 413.21 L391.07 414.20 L390.49 415.11 L390.29 416.09 L390.08 417.07 L389.88 418.05 L389.67 419.03 L389.45 420.01 L389.24 421.00 L389.02 421.98 L388.81 422.97 L388.59 423.97 L388.37 424.97 L388.16 425.98 L387.95 426.99 L387.75 428.00 L387.55 429.00 L387.35 429.99 L387.13 430.95 L386.90 431.89 L386.65 432.79 L386.37 433.66 L386.05 434.50 L385.70 435.29 L385.30 436.04 L384.84 436.79 L384.33 437.53 L383.76 438.29 L383.15 439.05 L382.51 439.84 L385.92 442.62 L386.58 441.81 L387.24 440.98 L387.90 440.11 L388.53 439.19 L389.12 438.22 L389.66 437.21 L390.12 436.17 L390.52 435.12 L390.86 434.06 L391.15 433.01 L391.41 431.96 L391.65 430.91 L391.86 429.88 L392.06 428.87 L392.27 427.87 L392.47 426.87 L392.68 425.89 L392.89 424.90 L393.10 423.91 L393.32 422.92 L393.54 421.94 L393.75 420.95 L393.97 419.96 L394.18 418.97 L394.39 417.97 L394.60 416.97 L394.80 415.97 L394.61 414.90 L394.80 413.90 L395.00 412.90 L395.19 411.91 L395.39 410.92 L395.58 409.92 L395.78 408.93 L395.98 407.95 L396.19 406.96 L396.40 405.98 L396.62 405.00 L396.84 404.02 L397.07 403.04 L397.30 402.06 L397.54 401.09 L397.78 400.11 L398.02 399.13 L398.27 398.16 L398.53 397.18 L398.78 396.21 L399.04 395.23 L399.30 394.26 L399.57 393.28 L399.83 392.31 L400.10 391.33 L400.37 390.35 L400.64 389.38 L400.91 388.40 L401.18 387.43 L401.45 386.45 L401.72 385.48 L401.99 384.50 L402.26 383.52 L402.54 382.55 L402.81 381.57 L403.08 380.59 L403.35 379.61 L403.62 378.64 L403.89 377.66 L404.16 376.68 L404.43 375.70 L404.70 374.73 L404.97 373.75 L405.24 372.77 L405.50 371.79 L405.77 370.82 L406.04 369.84 L406.31 368.86 L406.58 367.88 L406.85 366.91 L407.12 365.93 L407.39 364.96 L407.66 363.99 L407.94 363.02 L408.22 362.05 L408.50 361.09 L408.79 360.13 L409.08 359.17 L409.38 358.21 L409.69 357.26 L410.00 356.32 L410.33 355.38 L410.66 354.44 L411.00 353.51 L411.36 352.58 L411.72 351.66 L412.09 350.74 L412.48 349.83 L412.88 348.92 L413.29 348.01 L413.71 347.12 L414.14 346.23 L414.58 345.34 L415.04 344.46 L415.51 343.59 L415.99 342.73 L416.49 341.88 L417.00 341.04 L417.52 340.21 L418.06 339.39 L418.62 338.59 L419.19 337.81 L419.78 337.04 L420.39 336.29 L421.02 335.56 L421.67 334.85 L422.34 334.15 L423.03 333.48 L423.74 332.83 L424.46 332.20 L425.21 331.59 L425.97 331.01 L426.76 330.45 L427.55 329.91 L428.36 329.39 L429.18 328.89 L430.01 328.42 L430.86 327.97 L431.73 327.56 L432.61 327.16 L433.50 326.80 L434.40 326.46 L435.31 326.15 L436.24 325.86 L437.18 325.59 L438.14 325.34 L439.10 325.10 L440.08 324.86 L441.07 324.62 L442.05 324.38 L443.03 324.15 L444.01 323.92 L444.98 323.69 L445.96 323.49 L446.92 323.29 L447.89 323.12 L448.87 322.96 L449.85 322.84 L450.84 322.74 L451.83 322.65 L452.82 322.58 L453.82 322.51 L454.82 322.46 L455.82 322.41 L456.83 322.38 L457.83 322.35 L458.84 322.32 L459.86 322.30 L460.87 322.28 L461.88 322.26 L462.89 322.24 L463.91 322.22 L464.92 322.21 L465.93 322.20 L466.94 322.19 L467.96 322.17 L468.97 322.16 L469.98 322.16 L470.99 322.15 L472.00 322.14 L473.01 322.14 L474.02 322.13 L475.04 322.13 L476.05 322.13 L477.06 322.12 L478.07 322.12 L479.08 322.12 L480.09 322.12 L481.10 322.12 L482.11 322.12 L483.12 322.13 L484.13 322.13 L485.15 322.13 L486.16 322.13 L487.17 322.13 L488.18 322.14 L489.19 322.14 L490.20 322.14 L491.21 322.15 L492.22 322.15 L493.24 322.15 L494.25 322.15 L495.26 322.16 L496.27 322.16 L497.28 322.16 L498.30 322.16 L499.31 322.17 L500.32 322.17 L501.33 322.17 L502.34 322.17 L503.36 322.17 L504.37 322.17 L505.38 322.17 L506.39 322.18 L507.40 322.18 L508.42 322.18 L509.43 322.18 L510.44 322.18 L511.45 322.18 L512.47 322.18 L513.48 322.18 L514.49 322.18 L515.50 322.18 L516.52 322.18 L517.53 322.18 L518.54 322.18 L519.55 322.18 L520.57 322.18 L521.58 322.18 L522.59 322.18 L523.61 322.18 L524.62 322.18 L525.63 322.18 L526.64 322.17 L527.66 322.17 L528.67 322.17 L529.68 322.17 L530.69 322.17 L531.71 322.17 L532.72 322.17 L533.73 322.17 L534.75 322.17 L535.76 322.17 L536.77 322.17 L537.78 322.16 L538.80 322.16 L539.81 322.16 L540.82 322.16 L541.83 322.16 L542.85 322.16 L543.86 322.16 L544.87 322.16 L545.89 322.16 L546.90 322.16 L547.91 322.15 L548.92 322.15 L549.94 322.15 L550.95 322.15 L551.96 322.15 L552.97 322.15 L553.99 322.15 L555.00 322.15 L556.01 322.15 L557.02 322.15 L558.04 322.15 L559.05 322.15 L560.06 322.15 L561.07 322.15 L562.09 322.15 L563.10 322.15 L564.11 322.15 L565.12 322.15 L566.14 322.15 L567.15 322.15 L568.16 322.15 L569.17 322.15 L570.19 322.15 L571.20 322.15 L572.21 322.15 L573.22 322.15 L574.24 322.15 L575.25 322.15 L576.26 322.15 L577.27 322.15 L578.29 322.15 L579.30 322.15 L580.31 322.15 L581.32 322.15 L582.33 322.15 L583.35 322.15 L584.36 322.15 L585.37 322.15 L586.38 322.15 L587.40 322.15 L588.41 322.15 L589.42 322.15 L590.43 322.15 L591.45 322.15 L592.46 322.15 L593.47 322.15 L594.48 322.15 L595.49 322.15 L596.51 322.15 L597.52 322.15 L598.53 322.15 L599.54 322.15 L600.56 322.15 L601.57 322.15 L602.58 322.15 L603.59 322.15 L604.61 322.15 L605.62 322.15Z" fill-rule="nonzero"/><circle cx="605.62" cy="320.85" r="1.30"/><circle cx="384.22" cy="441.23" r="2.20"/></g>
<g fill="#fcce25" clip-path="url(#c3)"><path d="M386.67 441.21 L386.67 440.29 L386.67 439.38 L386.68 438.51 L386.71 437.66 L386.77 436.84 L386.86 436.05 L386.98 435.29 L387.14 434.56 L387.34 433.82 L387.59 433.07 L387.87 432.32 L388.19 431.55 L388.55 430.78 L388.93 430.00 L389.33 429.21 L389.75 428.42 L390.17 427.65 L390.61 426.88 L391.05 426.14 L391.51 425.40 L391.98 424.69 L392.46 423.99 L392.96 423.31 L393.47 422.65 L394.00 422.00 L394.55 421.36 L395.13 420.73 L395.72 420.11 L396.34 419.49 L396.97 418.88 L397.61 418.27 L398.27 417.65 L398.94 417.04 L399.62 416.43 L400.31 415.82 L400.99 415.20 L401.68 414.59 L402.37 413.99 L403.06 413.38 L403.75 412.78 L404.44 412.18 L405.13 411.58 L405.82 410.98 L406.52 410.39 L407.21 409.80 L407.91 409.21 L408.61 408.63 L409.31 408.05 L410.01 407.47 L410.72 406.89 L411.42 406.32 L412.13 405.75 L412.85 405.18 L413.56 404.62 L414.28 404.06 L415.00 403.50 L415.72 402.94 L416.45 402.39 L417.18 401.83 L417.91 401.28 L418.64 400.73 L419.38 400.18 L420.11 399.62 L420.85 399.07 L421.59 398.52 L422.33 397.97 L423.07 397.41 L423.81 396.86 L424.55 396.30 L425.29 395.75 L426.03 395.19 L426.77 394.63 L427.51 394.07 L428.25 393.51 L428.99 392.95 L429.72 392.39 L430.46 391.82 L431.19 391.26 L431.93 390.69 L432.66 390.13 L433.39 389.56 L434.13 389.00 L434.86 388.43 L435.59 387.86 L436.32 387.30 L437.05 386.73 L437.78 386.16 L438.51 385.59 L439.24 385.02 L439.96 384.46 L440.69 383.89 L441.42 383.32 L442.15 382.75 L442.87 382.18 L443.60 381.61 L444.33 381.04 L445.06 380.48 L445.78 379.91 L446.51 379.34 L447.24 378.77 L447.96 378.21 L448.69 377.64 L449.42 377.07 L450.15 376.51 L450.87 375.94 L451.60 375.38 L452.33 374.81 L453.06 374.25 L453.79 373.69 L454.51 373.12 L455.24 372.56 L455.97 372.00 L456.70 371.44 L457.44 370.88 L458.17 370.33 L458.90 369.77 L459.63 369.22 L460.36 368.66 L461.10 368.11 L461.83 367.56 L462.57 367.01 L463.30 366.46 L464.04 365.91 L464.78 365.36 L465.51 364.82 L466.25 364.27 L466.99 363.73 L467.73 363.19 L468.48 362.65 L469.22 362.11 L469.96 361.58 L470.71 361.04 L471.45 360.51 L472.20 359.98 L472.95 359.45 L473.69 358.91 L474.44 358.37 L475.18 357.83 L475.93 357.30 L476.67 356.76 L477.42 356.23 L478.17 355.70 L478.92 355.16 L479.67 354.63 L480.42 354.11 L481.17 353.58 L481.92 353.05 L482.68 352.53 L483.43 352.01 L484.19 351.48 L484.94 350.96 L485.70 350.44 L486.46 349.92 L487.22 349.41 L487.98 348.89 L488.74 348.37 L489.50 347.86 L490.27 347.35 L491.03 346.84 L491.80 346.33 L492.56 345.82 L493.33 345.31 L494.09 344.80 L494.86 344.29 L495.63 343.79 L496.40 343.29 L497.18 342.79 L497.95 342.29 L498.73 341.78 L499.50 341.28 L500.28 340.78 L501.05 340.28 L501.83 339.77 L502.61 339.27 L503.38 338.76 L504.16 338.25 L504.93 337.74 L505.71 337.22 L506.48 336.71 L507.25 336.19 L508.02 335.66 L508.79 335.14 L509.56 334.61 L510.32 334.08 L511.09 333.55 L511.85 333.02 L512.60 332.48 L513.36 331.94 L514.12 331.41 L514.87 330.87 L515.62 330.33 L516.38 329.79 L517.13 329.24 L517.88 328.70 L518.62 328.16 L519.37 327.62 L520.12 327.08 L520.87 326.54 L521.62 326.00 L522.36 325.46 L523.11 324.92 L523.85 324.38 L524.60 323.85 L525.35 323.32 L526.10 322.79 L526.85 322.26 L527.60 321.74 L528.35 321.22 L529.10 320.71 L529.86 320.20 L530.62 319.70 L531.38 319.20 L532.14 318.71 L532.90 318.22 L533.67 317.74 L534.45 317.27 L535.22 316.80 L536.00 316.35 L536.79 315.90 L537.58 315.46 L538.37 315.03 L539.17 314.61 L539.98 314.21 L540.79 313.81 L541.60 313.42 L542.42 313.04 L543.24 312.68 L544.07 312.33 L544.90 311.99 L545.73 311.66 L546.57 311.34 L547.41 311.04 L548.25 310.76 L549.10 310.48 L549.96 310.23 L550.81 309.98 L551.67 309.76 L552.54 309.54 L553.41 309.34 L554.29 309.15 L555.17 308.98 L556.06 308.81 L556.95 308.65 L557.84 308.51 L558.74 308.37 L559.63 308.25 L560.52 308.14 L561.40 308.05 L562.28 307.99 L563.15 307.95 L564.02 307.93 L564.89 307.94 L565.75 307.98 L566.61 308.05 L567.46 308.15 L568.32 308.28 L569.18 308.44 L570.04 308.62 L570.90 308.82 L571.75 309.05 L572.61 309.30 L573.46 309.58 L574.30 309.87 L575.14 310.18 L575.98 310.50 L576.81 310.85 L577.63 311.21 L578.45 311.58 L579.27 311.96 L580.08 312.35 L580.89 312.76 L581.70 313.17 L582.51 313.59 L583.33 314.01 L584.14 314.44 L584.96 314.87 L585.78 315.30 L586.61 315.72 L587.44 316.15 L588.28 316.57 L589.12 316.99 L589.97 317.39 L590.83 317.79 L591.69 318.18 L592.57 318.56 L593.44 318.92 L594.33 319.27 L595.23 319.60 L596.13 319.92 L597.04 320.22 L597.96 320.49 L598.87 320.75 L599.79 320.99 L600.70 321.22 L601.62 321.44 L602.53 321.65 L603.44 321.85 L604.35 322.05 L605.26 322.24 L605.98 318.92 L605.07 318.72 L604.18 318.53 L603.28 318.33 L602.40 318.12 L601.52 317.91 L600.64 317.69 L599.78 317.46 L598.92 317.21 L598.07 316.95 L597.23 316.68 L596.39 316.39 L595.56 316.08 L594.73 315.75 L593.90 315.40 L593.08 315.05 L592.26 314.67 L591.44 314.29 L590.62 313.90 L589.81 313.50 L589.00 313.08 L588.18 312.67 L587.37 312.24 L586.56 311.82 L585.74 311.39 L584.93 310.96 L584.10 310.53 L583.28 310.10 L582.45 309.67 L581.61 309.25 L580.76 308.84 L579.90 308.44 L579.04 308.04 L578.16 307.66 L577.27 307.29 L576.38 306.94 L575.47 306.60 L574.55 306.28 L573.63 305.99 L572.70 305.71 L571.76 305.45 L570.81 305.23 L569.86 305.02 L568.89 304.85 L567.93 304.70 L566.96 304.58 L565.98 304.50 L565.00 304.45 L564.02 304.44 L563.04 304.45 L562.08 304.50 L561.11 304.56 L560.15 304.65 L559.20 304.75 L558.26 304.86 L557.32 304.99 L556.38 305.13 L555.45 305.28 L554.51 305.44 L553.58 305.61 L552.65 305.79 L551.72 305.99 L550.80 306.21 L549.87 306.44 L548.95 306.68 L548.03 306.94 L547.12 307.22 L546.21 307.51 L545.31 307.82 L544.41 308.14 L543.52 308.48 L542.63 308.82 L541.75 309.18 L540.87 309.56 L540.00 309.94 L539.14 310.34 L538.28 310.74 L537.43 311.16 L536.58 311.59 L535.74 312.03 L534.90 312.47 L534.07 312.92 L533.25 313.38 L532.43 313.84 L531.61 314.32 L530.80 314.80 L530.00 315.28 L529.20 315.77 L528.41 316.27 L527.62 316.77 L526.83 317.28 L526.05 317.79 L525.27 318.30 L524.49 318.81 L523.72 319.33 L522.95 319.85 L522.18 320.38 L521.41 320.90 L520.65 321.42 L519.89 321.95 L519.13 322.48 L518.37 323.00 L517.61 323.53 L516.85 324.05 L516.09 324.58 L515.33 325.10 L514.57 325.63 L513.81 326.15 L513.06 326.67 L512.30 327.19 L511.54 327.71 L510.78 328.23 L510.02 328.74 L509.26 329.25 L508.50 329.76 L507.73 330.27 L506.97 330.78 L506.21 331.28 L505.44 331.78 L504.67 332.28 L503.90 332.77 L503.13 333.26 L502.36 333.75 L501.58 334.24 L500.80 334.73 L500.02 335.21 L499.24 335.70 L498.46 336.18 L497.68 336.67 L496.89 337.15 L496.11 337.64 L495.32 338.12 L494.53 338.61 L493.75 339.09 L492.96 339.58 L492.17 340.07 L491.38 340.55 L490.59 341.04 L489.81 341.53 L489.02 342.02 L488.23 342.51 L487.45 343.01 L486.66 343.50 L485.88 344.00 L485.10 344.49 L484.31 344.99 L483.53 345.49 L482.75 345.99 L481.97 346.49 L481.19 346.99 L480.41 347.50 L479.63 348.00 L478.86 348.51 L478.08 349.02 L477.31 349.53 L476.53 350.04 L475.76 350.55 L474.98 351.07 L474.21 351.58 L473.44 352.10 L472.67 352.62 L471.90 353.14 L471.13 353.66 L470.37 354.18 L469.60 354.71 L468.84 355.25 L468.09 355.79 L467.33 356.33 L466.58 356.87 L465.82 357.41 L465.07 357.96 L464.32 358.50 L463.57 359.05 L462.82 359.60 L462.07 360.15 L461.33 360.70 L460.58 361.25 L459.84 361.81 L459.09 362.36 L458.35 362.92 L457.61 363.47 L456.87 364.03 L456.13 364.59 L455.39 365.15 L454.65 365.71 L453.92 366.27 L453.18 366.84 L452.44 367.40 L451.71 367.96 L450.98 368.53 L450.24 369.09 L449.51 369.66 L448.78 370.23 L448.05 370.79 L447.32 371.36 L446.59 371.93 L445.86 372.50 L445.13 373.06 L444.40 373.63 L443.67 374.20 L442.94 374.77 L442.21 375.34 L441.48 375.91 L440.76 376.48 L440.03 377.04 L439.30 377.61 L438.57 378.18 L437.85 378.75 L437.12 379.32 L436.39 379.88 L435.67 380.45 L434.94 381.02 L434.21 381.59 L433.49 382.15 L432.76 382.72 L432.03 383.28 L431.30 383.85 L430.58 384.41 L429.85 384.97 L429.12 385.54 L428.39 386.10 L427.66 386.66 L426.93 387.22 L426.20 387.78 L425.47 388.34 L424.74 388.89 L424.01 389.45 L423.27 390.01 L422.54 390.56 L421.81 391.11 L421.07 391.66 L420.33 392.22 L419.60 392.77 L418.86 393.32 L418.12 393.87 L417.38 394.43 L416.63 394.98 L415.89 395.54 L415.15 396.09 L414.41 396.65 L413.67 397.21 L412.93 397.78 L412.19 398.34 L411.45 398.91 L410.71 399.48 L409.98 400.06 L409.25 400.64 L408.51 401.22 L407.79 401.80 L407.06 402.39 L406.34 402.98 L405.62 403.57 L404.90 404.17 L404.18 404.77 L403.47 405.37 L402.76 405.97 L402.05 406.58 L401.34 407.18 L400.64 407.79 L399.93 408.41 L399.23 409.02 L398.53 409.64 L397.83 410.25 L397.14 410.87 L396.44 411.49 L395.75 412.12 L395.05 412.75 L394.35 413.38 L393.65 414.03 L392.95 414.69 L392.25 415.37 L391.57 416.06 L390.89 416.77 L390.22 417.51 L389.57 418.26 L388.93 419.03 L388.32 419.83 L387.73 420.63 L387.17 421.45 L386.62 422.28 L386.10 423.12 L385.60 423.96 L385.11 424.81 L384.64 425.67 L384.19 426.53 L383.74 427.40 L383.30 428.30 L382.88 429.22 L382.48 430.17 L382.12 431.14 L381.79 432.15 L381.50 433.18 L381.28 434.23 L381.11 435.28 L381.00 436.32 L380.92 437.34 L380.88 438.35 L380.87 439.33 L380.87 440.30 L380.87 441.24Z" fill-rule="nonzero"/><circle cx="383.77" cy="441.23" r="2.90"/><circle cx="605.62" cy="320.58" r="1.70"/></g>
<path d="M370.80 320.31H616.80M493.80 293.20V537.20" stroke="#000" stroke-width="1.67" fill="none"/>
<path d="M370.80 455.87H616.80" stroke="#000" stroke-width="1.67" stroke-dasharray="6.2 2.5" fill="none"/>
<path d="M381.98 537.20v5.6M437.89 537.20v5.6M493.80 537.20v5.6M549.71 537.20v5.6M605.62 537.20v5.6M370.80 320.31h-5.6M370.80 354.20h-5.6M370.80 388.09h-5.6M370.80 421.98h-5.6M370.80 455.87h-5.6M370.80 489.76h-5.6M370.80 523.64h-5.6" stroke="#000" stroke-width="1.3" fill="none"/>
<rect x="370.8" y="293.2" width="246.0" height="244.0" fill="none" stroke="#000" stroke-width="1.11"/>
<text transform="translate(381.98 558.30) scale(1.0 1)" text-anchor="middle">−1.0</text>
<text transform="translate(437.89 558.30) scale(1.0 1)" text-anchor="middle">−0.5</text>
<text transform="translate(493.80 558.30) scale(1.0 1)" text-anchor="middle">0.0</text>
<text transform="translate(549.71 558.30) scale(1.0 1)" text-anchor="middle">0.5</text>
<text transform="translate(605.62 558.30) scale(1.0 1)" text-anchor="middle">1.0</text>
<text transform="translate(469.50 576.60) scale(1.0 1)" text-anchor="start">V/V<tspan font-style="italic" font-size="10.5" dy="2.9">max</tspan></text>
</g>
<polygon points="146.48,169.17 156.40,146.50 160.08,156.20 172.38,148.77 174.98,155.20 164.98,162.40 167.55,172.10" fill="#000"/>
<polygon points="441.83,110.53 451.43,87.96 455.13,97.23 467.13,90.13 469.83,95.93 459.63,104.03 462.58,113.64" fill="#000"/>
<polygon points="146.96,378.40 155.90,355.50 160.10,363.90 172.00,356.16 175.04,362.00 164.30,370.75 167.90,379.80" fill="#000"/>
<polygon points="439.70,321.50 457.20,306.90 457.20,317.60 468.60,317.60 468.60,325.40 457.20,325.40 457.20,336.20" fill="#000"/>
<path d="M459.95 320.31V437.30M605.42 320.31V437.30" stroke="#000" stroke-width="1.67" stroke-dasharray="6.2 2.5" fill="none"/>
<path d="M467.95 415.40H597.42" stroke="#000" stroke-width="4.4" fill="none"/>
<polygon points="459.95,415.40 472.15,407.80 472.15,423.00" fill="#000"/>
<polygon points="605.42,415.40 593.22,407.80 593.22,423.00" fill="#000"/>
<rect x="464.85" y="432.0" width="131.85" height="40.1" fill="#fff" stroke="#000" stroke-width="1.3"/>
<text transform="translate(530.50 447.50) scale(0.985 1)" text-anchor="middle">region of sheath</text>
<text transform="translate(530.50 464.60) scale(0.985 1)" text-anchor="middle">depletion</text>
<rect x="248.90" y="220.85" width="72.4" height="22.4" fill="#f5deb3" stroke="#000" stroke-width="1.45"/>
<text transform="translate(252.90 236.45) scale(1.0 1)" text-anchor="start"><tspan font-style="italic">ξ</tspan> = 1.25</text>
<rect x="552.40" y="220.85" width="63.9" height="22.4" fill="#f5deb3" stroke="#000" stroke-width="1.45"/>
<text transform="translate(556.40 236.45) scale(1.0 1)" text-anchor="start"><tspan font-style="italic">ξ</tspan> = 2.5</text>
<rect x="257.60" y="513.60" width="63.7" height="22.4" fill="#f5deb3" stroke="#000" stroke-width="1.45"/>
<text transform="translate(261.60 529.20) scale(1.0 1)" text-anchor="start"><tspan font-style="italic">ξ</tspan> = 5.0</text>
<rect x="542.40" y="513.60" width="73.9" height="22.4" fill="#f5deb3" stroke="#000" stroke-width="1.45"/>
<text transform="translate(546.40 529.20) scale(1.0 1)" text-anchor="start"><tspan font-style="italic">ξ</tspan> = 25.0</text>
</svg>
</body></html>
